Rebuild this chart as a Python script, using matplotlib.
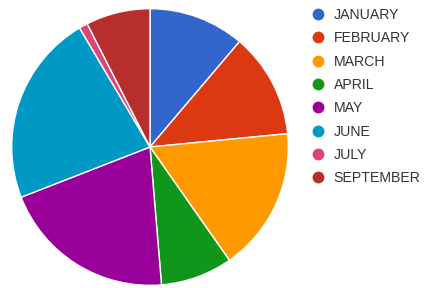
import matplotlib
matplotlib.use('Agg')
import matplotlib.pyplot as plt
from matplotlib.lines import Line2D

plt.rcParams['font.family'] = ['Liberation Sans', 'DejaVu Sans']

months = ['JANUARY', 'FEBRUARY', 'MARCH', 'APRIL', 'MAY', 'JUNE', 'JULY', 'SEPTEMBER']
shares = [11.2, 12.25, 16.8, 8.4, 20.4, 22.4, 1.0, 7.5]
colors = ['#3366cc', '#dc3912', '#ff9900', '#109618', '#990099', '#0099c6', '#dd4477', '#b82e2e']

fig = plt.figure(figsize=(4.25, 2.88), dpi=100)
ax = fig.add_axes([11 / 425, 2 / 288, 278 / 425, 278 / 288])
ax.pie(shares, colors=colors, startangle=90, counterclock=False,
       wedgeprops=dict(edgecolor='white', linewidth=1.0))
ax.set_xlim(-1.005, 1.005)
ax.set_ylim(-1.005, 1.005)
ax.set_aspect('equal')

handles = [Line2D([], [], marker='o', ls='', markersize=7.5, color=c) for c in colors]
fig.legend(handles, months, loc='upper left', bbox_to_anchor=(311 / 425, 1 - 8 / 288),
           frameon=False, fontsize=10.2, labelspacing=0.66, handlelength=1.0,
           handletextpad=0.6, borderaxespad=0, borderpad=0, labelcolor='#333333')

fig.savefig('out.png', dpi=100)
